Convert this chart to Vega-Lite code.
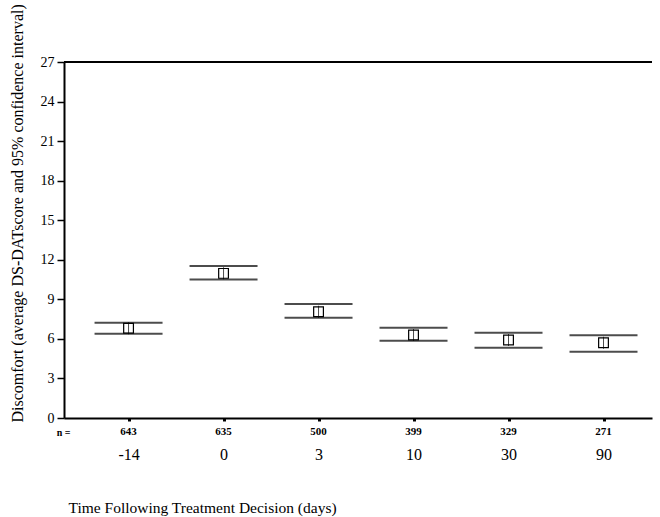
{
  "$schema": "https://vega.github.io/schema/vega-lite/v6.json",
  "width": 588,
  "height": 356,
  "autosize": "none",
  "padding": {"left": 64, "top": 62, "right": 8, "bottom": 99},
  "background": "white",
  "config": {
    "font": "Liberation Serif",
    "view": {"stroke": null},
    "axis": {"grid": false, "labelColor": "black", "titleColor": "black", "labelFont": "Liberation Serif", "titleFont": "Liberation Serif", "titleFontWeight": "normal"},
    "axisY": {
      "labelOverlap": false, "labelFlush": false,
      "labelFontSize": 14, "labelPadding": 3,
      "tickSize": 7, "tickWidth": 1.5, "tickColor": "black",
      "domainColor": "black", "domainWidth": 2,
      "titleFontSize": 16, "titleX": -47, "titleY": 360, "titleAngle": -90, "titleAlign": "left", "titleBaseline": "middle"
    }
  },
  "data": {
    "values": [
      {"day": -14, "n": 643, "mean": 6.8, "lower": 6.39, "upper": 7.23},
      {"day": 0, "n": 635, "mean": 10.97, "lower": 10.51, "upper": 11.52},
      {"day": 3, "n": 500, "mean": 8.06, "lower": 7.6, "upper": 8.64},
      {"day": 10, "n": 399, "mean": 6.29, "lower": 5.86, "upper": 6.85},
      {"day": 30, "n": 329, "mean": 5.91, "lower": 5.33, "upper": 6.47},
      {"day": 90, "n": 271, "mean": 5.71, "lower": 5.03, "upper": 6.27}
    ]
  },
  "layer": [
    {
      "mark": {"type": "tick", "color": "black", "size": 68, "thickness": 2},
      "encoding": {
        "x": {
          "field": "day", "type": "ordinal",
          "scale": {"type": "point", "padding": 0.595, "align": 0.571},
          "axis": {
            "orient": "bottom", "labelAngle": 0, "labelFontSize": 16, "labelPadding": 25,
            "ticks": true, "tickSize": 3, "tickWidth": 3, "tickColor": "black",
            "domain": true, "domainColor": "black", "domainWidth": 2,
            "title": "Time Following Treatment Decision (days)",
            "titleFontSize": 15.5, "titleX": 4, "titleY": 94, "titleAlign": "left", "titleBaseline": "alphabetic", "titleAnchor": null
          }
        },
        "y": {
          "field": "upper", "type": "quantitative",
          "title": "Discomfort (average DS-DATscore and 95% confidence interval)",
          "scale": {"domain": [0, 27], "nice": false},
          "axis": {"values": [0, 3, 6, 9, 12, 15, 18, 21, 24, 27], "labelOverlap": false, "labelFontSize": 14}
        }
      }
    },
    {
      "mark": {"type": "rule", "color": "black", "strokeWidth": 2},
      "encoding": {"y": {"datum": 27, "type": "quantitative", "title": "Discomfort (average DS-DATscore and 95% confidence interval)", "axis": {"values": [0, 3, 6, 9, 12, 15, 18, 21, 24, 27], "labelOverlap": false, "labelFontSize": 14}}}
    },
    {
      "mark": {"type": "tick", "color": "black", "size": 68, "thickness": 2},
      "encoding": {
        "x": {"field": "day", "type": "ordinal", "scale": {"type": "point", "padding": 0.595, "align": 0.571}, "axis": null},
        "y": {"field": "lower", "type": "quantitative", "title": "Discomfort (average DS-DATscore and 95% confidence interval)", "axis": {"values": [0, 3, 6, 9, 12, 15, 18, 21, 24, 27], "labelOverlap": false, "labelFontSize": 14}}
      }
    },
    {
      "mark": {"type": "point", "shape": "square", "size": 95, "filled": false, "color": "black", "strokeWidth": 1.2, "opacity": 1},
      "encoding": {
        "x": {"field": "day", "type": "ordinal", "scale": {"type": "point", "padding": 0.595, "align": 0.571}, "axis": null},
        "y": {"field": "mean", "type": "quantitative", "title": "Discomfort (average DS-DATscore and 95% confidence interval)", "axis": {"values": [0, 3, 6, 9, 12, 15, 18, 21, 24, 27], "labelOverlap": false, "labelFontSize": 14}}
      }
    },
    {
      "mark": {"type": "tick", "orient": "vertical", "color": "black", "size": 12, "thickness": 1},
      "encoding": {
        "x": {"field": "day", "type": "ordinal", "scale": {"type": "point", "padding": 0.595, "align": 0.571}, "axis": null},
        "y": {"field": "mean", "type": "quantitative", "title": "Discomfort (average DS-DATscore and 95% confidence interval)", "axis": {"values": [0, 3, 6, 9, 12, 15, 18, 21, 24, 27], "labelOverlap": false, "labelFontSize": 14}}
      }
    },
    {
      "mark": {"type": "text", "color": "black", "fontSize": 11, "fontWeight": "bold", "dy": 14, "baseline": "middle", "font": "Liberation Serif"},
      "encoding": {
        "x": {
          "field": "day", "type": "ordinal", "scale": {"type": "point", "padding": 0.595, "align": 0.571},
          "axis": {"orient": "bottom", "labels": false, "ticks": false, "domain": false, "title": "n =", "titleX": -1, "titleY": 14, "titleAlign": "center", "titleBaseline": "middle", "titleFontSize": 10, "titleFontWeight": "bold", "titleAnchor": null}
        },
        "y": {"datum": 0, "type": "quantitative", "title": "Discomfort (average DS-DATscore and 95% confidence interval)", "axis": {"values": [0, 3, 6, 9, 12, 15, 18, 21, 24, 27], "labelOverlap": false, "labelFontSize": 14}},
        "text": {"field": "n", "type": "nominal"}
      }
    }
  ],
  "resolve": {"axis": {"x": "independent"}}
}
